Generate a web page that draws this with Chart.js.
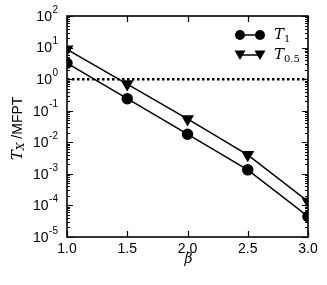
<!DOCTYPE html>
<html>
<head>
<meta charset="utf-8">
<script src="https://cdn.jsdelivr.net/npm/chart.js@4/dist/chart.umd.min.js"></script>
<style>
  html, body { margin: 0; padding: 0; background: #fff; }
  #wrap { width: 327px; height: 285px; }
</style>
</head>
<body>
<div id="wrap"><canvas id="chart" width="327" height="285"></canvas></div>
<script>
// data
const betaValues = [1.0, 1.5, 2.0, 2.5, 3.0];
const t1Values = [3.2, 0.24, 0.018, 0.00134, 0.000045];
const t05Values = [8.8, 0.70, 0.055, 0.0040, 0.000133];
const refLine = [1, 1];
const xTicks = [1.0, 1.5, 2.0, 2.5, 3.0];
const yExponents = [2, 1, 0, -1, -2, -3, -4, -5];

const SANS = '"Liberation Sans", Arial, sans-serif';
const SERIF = '"DejaVu Serif", "Liberation Serif", serif';

// frame, inward ticks, y labels with exponents, titles, legend
const decorations = {
    id: 'decorations',
    afterDraw(chart) {
        const ctx = chart.ctx;
        const a = chart.chartArea;
        const xs = chart.scales.x;
        const ys = chart.scales.y;
        ctx.save();
        ctx.strokeStyle = '#000';
        ctx.fillStyle = '#000';

        // box
        ctx.lineWidth = 1.6;
        ctx.strokeRect(a.left, a.top, a.right - a.left, a.bottom - a.top);

        // x ticks top and bottom
        ctx.lineWidth = 1.2;
        xTicks.forEach(v => {
            const px = Math.round(xs.getPixelForValue(v)) + 0.5;
            ctx.beginPath();
            ctx.moveTo(px, a.bottom); ctx.lineTo(px, a.bottom - 6);
            ctx.moveTo(px, a.top); ctx.lineTo(px, a.top + 6);
            ctx.stroke();
        });

        // y ticks, major and minor, both sides
        yExponents.forEach(e => {
            for (let m = 1; m <= 9; m++) {
                const v = m * Math.pow(10, e);
                if (v > ys.max * 1.0001 || v < ys.min * 0.9999) continue;
                const py = Math.round(ys.getPixelForValue(v)) + 0.5;
                const len = m === 1 ? 6 : 3;
                ctx.beginPath();
                ctx.moveTo(a.left, py); ctx.lineTo(a.left + len, py);
                ctx.moveTo(a.right, py); ctx.lineTo(a.right - len, py);
                ctx.stroke();
            }
        });

        // y tick labels 10^n
        ctx.textBaseline = 'middle';
        yExponents.forEach(e => {
            const py = ys.getPixelForValue(Math.pow(10, e));
            const ex = String(e);
            ctx.font = '10px ' + SANS;
            const ew = ctx.measureText(ex).width;
            const right = a.left - 9;
            ctx.textAlign = 'right';
            ctx.fillText(ex, right, py - 6);
            ctx.font = '14px ' + SANS;
            ctx.fillText('10', right - ew - 0.5, py + 1);
        });

        // x title
        ctx.textAlign = 'center';
        ctx.font = 'italic 14px ' + SERIF;
        ctx.fillText('\u03B2', (a.left + a.right) / 2 + 1, 259);

        // y title, rotated
        ctx.save();
        ctx.translate(18, (a.top + a.bottom) / 2 + 2);
        ctx.rotate(-Math.PI / 2);
        ctx.textAlign = 'left';
        const parts = [
            { t: 'T', f: 'italic 15px ' + SERIF, dy: 0 },
            { t: 'X', f: 'italic 11px ' + SERIF, dy: 3 },
            { t: ' /MFPT', f: '14px ' + SANS, dy: 0 }
        ];
        let total = 0;
        parts.forEach(p => { ctx.font = p.f; total += ctx.measureText(p.t).width; });
        let cx = -total / 2;
        parts.forEach(p => {
            ctx.font = p.f;
            ctx.fillText(p.t, cx, p.dy);
            cx += ctx.measureText(p.t).width;
        });
        ctx.restore();

        // legend
        const items = [
            { sub: '1', ds: 0, y: 35 },
            { sub: '0.5', ds: 1, y: 55 }
        ];
        items.forEach(it => {
            const x0 = 240, x1 = 260;
            ctx.lineWidth = 1.5;
            ctx.beginPath();
            ctx.moveTo(x0, it.y); ctx.lineTo(x1, it.y);
            ctx.stroke();
            [x0, x1].forEach(x => {
                if (it.ds === 0) {
                    ctx.beginPath();
                    ctx.arc(x, it.y, 5, 0, Math.PI * 2);
                    ctx.fill();
                } else {
                    ctx.beginPath();
                    ctx.moveTo(x - 5.5, it.y - 4.5);
                    ctx.lineTo(x + 5.5, it.y - 4.5);
                    ctx.lineTo(x, it.y + 5);
                    ctx.closePath();
                    ctx.fill();
                }
            });
            ctx.textAlign = 'left';
            ctx.font = 'italic 15px ' + SERIF;
            ctx.fillText('T', 274, it.y);
            const tw = ctx.measureText('T').width;
            ctx.font = '10px ' + SERIF;
            ctx.fillText(it.sub, 274 + tw, it.y + 4);
        });

        ctx.restore();
    }
};

new Chart(document.getElementById('chart').getContext('2d'), {
    type: 'line',
    data: {
        labels: betaValues,
        datasets: [
            {
                label: 'T1',
                data: betaValues.map((b, i) => ({ x: b, y: t1Values[i] })),
                borderColor: '#000',
                backgroundColor: '#000',
                borderWidth: 1.5,
                pointStyle: 'circle',
                pointRadius: 5,
                pointHoverRadius: 5
            },
            {
                label: 'T0.5',
                data: betaValues.map((b, i) => ({ x: b, y: t05Values[i] })),
                borderColor: '#000',
                backgroundColor: '#000',
                borderWidth: 1.5,
                pointStyle: 'triangle',
                pointRotation: 180,
                pointRadius: 6,
                pointHoverRadius: 6
            },
            {
                label: 'ref',
                data: [{ x: xTicks[0], y: refLine[0] }, { x: xTicks[xTicks.length - 1], y: refLine[1] }],
                borderColor: '#000',
                borderWidth: 2.5,
                borderDash: [2.5, 2.5],
                pointRadius: 0
            }
        ]
    },
    options: {
        responsive: false,
        animation: false,
        layout: { padding: { left: 0, top: 16, right: 19, bottom: 0 } },
        plugins: {
            legend: { display: false },
            tooltip: { enabled: false }
        },
        scales: {
            x: {
                type: 'linear',
                min: 1,
                max: 3,
                grid: { display: false, drawTicks: false },
                border: { display: false },
                ticks: {
                    stepSize: 0.5,
                    padding: 4,
                    color: '#000',
                    font: { family: SANS, size: 14 },
                    callback: v => Number(v).toFixed(1)
                },
                afterFit: s => { s.height = 48; }
            },
            y: {
                type: 'logarithmic',
                min: 1e-5,
                max: 1e2,
                grid: { display: false, drawTicks: false },
                border: { display: false },
                ticks: { display: false },
                afterFit: s => { s.width = 67; }
            }
        }
    },
    plugins: [decorations]
});
</script>
</body>
</html>
